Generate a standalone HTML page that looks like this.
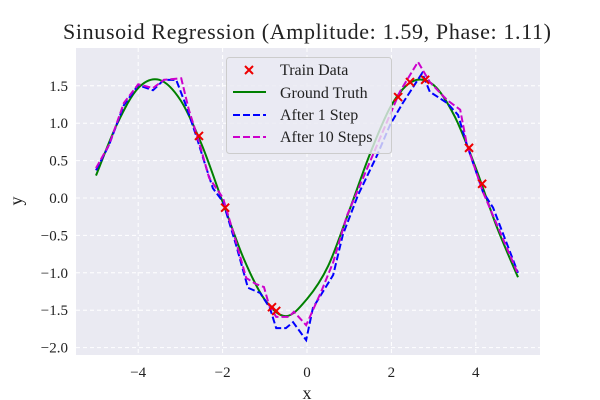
<!DOCTYPE html>
<html><head><meta charset="utf-8"><style>
html,body{margin:0;padding:0;background:#fff;}
svg{display:block;font-family:"Liberation Serif",serif;}
</style></head><body>
<svg id="chart" width="600" height="400" viewBox="0 0 600 400">
<rect x="76" y="48" width="464" height="307" fill="#eaeaf2"/>
<g id="grid"></g><g id="ticks"></g><g id="series"></g>
<text x="307" y="39" text-anchor="middle" font-size="22" fill="#222" textLength="488" lengthAdjust="spacing">Sinusoid Regression (Amplitude: 1.59, Phase: 1.11)</text>
<text x="307" y="399" text-anchor="middle" font-size="18" fill="#222">x</text>
<text x="22" y="201" text-anchor="middle" font-size="18" fill="#222" transform="rotate(-90 22 201)">y</text>
<g>
<rect x="226.5" y="57.5" width="165" height="96" rx="3" fill="#eaeaf2" fill-opacity="0.8" stroke="#ccc"/>
<g><path d="M245 66 l8 8 M253 66 l-8 8" stroke="#e00" stroke-width="2"/><text x="280" y="75" font-size="16" fill="#222">Train Data</text></g>
<g><line x1="233" y1="92" x2="266" y2="92" stroke="#008000" stroke-width="2"/><text x="280" y="98" font-size="16" fill="#222">Ground Truth</text></g>
<g><line x1="233" y1="115" x2="266" y2="115" stroke="#00f" stroke-width="2" stroke-dasharray="7,3"/><text x="280" y="120" font-size="16" fill="#222">After 1 Step</text></g>
<g><line x1="233" y1="137" x2="266" y2="137" stroke="#c0c" stroke-width="2" stroke-dasharray="7,3"/><text x="280" y="142" font-size="16" fill="#222">After 10 Steps</text></g>
</g>
</svg>
<script>
const xTicks=[-4,-2,0,2,4];
const xTickLabels=["\u22124","\u22122","0","2","4"];
const yTicks=[1.5,1.0,0.5,0.0,-0.5,-1.0,-1.5,-2.0];
const yTickLabels=["1.5","1.0","0.5","0.0","\u22120.5","\u22121.0","\u22121.5","\u22122.0"];
const truthX=[-5,-4.5,-4,-3.5,-3,-2.5,-2,-1.5,-1,-0.5,0,0.5,1,1.5,2,2.5,3,3.5,4,4.5,5];
const truthY=[0.30,0.99,1.47,1.58,1.31,0.72,-0.05,-0.81,-1.36,-1.58,-1.35,-0.91,-0.17,0.60,1.24,1.56,1.51,1.09,0.40,-0.39,-1.06];
const step1X=[-5,-4.69,-4.34,-4,-3.65,-3.39,-3.1,-2.87,-2.63,-2.46,-2.23,-1.99,-1.68,-1.4,-1.11,-0.88,-0.73,-0.5,-0.33,-0.02,0.14,0.62,0.85,1.21,1.66,1.97,2.27,2.73,2.91,3.32,3.58,3.79,4.17,4.41,5];
const step1Y=[0.37,0.71,1.24,1.51,1.44,1.58,1.58,1.24,0.84,0.53,0.13,-0.05,-0.63,-1.2,-1.27,-1.47,-1.74,-1.74,-1.66,-1.9,-1.47,-1.03,-0.49,0.04,0.57,0.98,1.27,1.67,1.42,1.27,1.11,0.71,0.08,-0.13,-1.0];
const step10X=[-5,-4.69,-4.34,-4,-3.65,-3.39,-2.98,-2.8,-2.56,-2.32,-1.99,-1.68,-1.44,-1.21,-1.02,-0.9,-0.73,-0.43,-0.31,-0.02,0.33,0.62,0.95,1.33,1.73,2.2,2.63,2.91,3.32,3.63,3.79,4.17,4.98];
const step10Y=[0.4,0.71,1.27,1.52,1.47,1.58,1.6,1.18,0.75,0.27,0,-0.59,-1.07,-1.15,-1.19,-1.43,-1.59,-1.59,-1.52,-1.7,-1.26,-0.86,-0.23,0.27,0.8,1.42,1.82,1.55,1.31,1.18,0.71,0.08,-0.99];
const trainX=[-2.56,-1.94,-0.83,-0.73,2.16,2.44,2.8,3.84,4.15];
const trainY=[0.83,-0.13,-1.46,-1.51,1.35,1.55,1.58,0.67,0.19];

const NS="http://www.w3.org/2000/svg";
const sx=v=>307+v*42.2, sy=v=>198-v*74.8;
function mk(tag,attrs,parent){const e=document.createElementNS(NS,tag);for(const k in attrs)e.setAttribute(k,attrs[k]);parent.appendChild(e);return e;}
const grid=document.getElementById('grid'),ticks=document.getElementById('ticks'),ser=document.getElementById('series');
xTicks.forEach((t,i)=>{
 const l=mk('line',{x1:sx(t),x2:sx(t),y1:48,y2:355,stroke:'#fff','stroke-width':1,'stroke-dasharray':'4,3'},grid);
 
 
 const tx=mk('text',{x:sx(t),y:377,'text-anchor':'middle','font-size':15,fill:'#222'},ticks);
 tx.textContent=xTickLabels[i];
 
 
});
yTicks.forEach((t,i)=>{
 const l=mk('line',{x1:76,x2:540,y1:sy(t),y2:sy(t),stroke:'#fff','stroke-width':1,'stroke-dasharray':'4,3'},grid);
 
 
 const tx=mk('text',{x:68,y:sy(t)+5,'text-anchor':'end','font-size':15,fill:'#222'},ticks);
 tx.textContent=yTickLabels[i];
 
 
});
function smooth(xs,ys){
 const p=xs.map((x,i)=>[sx(x),sy(ys[i])]);let d='M'+p[0][0]+' '+p[0][1];
 for(let i=0;i<p.length-1;i++){const p0=p[Math.max(0,i-1)],p1=p[i],p2=p[i+1],p3=p[Math.min(p.length-1,i+2)];
  d+=` C${p1[0]+(p2[0]-p0[0])/6} ${p1[1]+(p2[1]-p0[1])/6} ${p2[0]-(p3[0]-p1[0])/6} ${p2[1]-(p3[1]-p1[1])/6} ${p2[0]} ${p2[1]}`;}
 return d;}
function poly(xs,ys){return xs.map((x,i)=>(i?'L':'M')+sx(x)+' '+sy(ys[i])).join(' ');}
const g1=mk('path',{d:smooth(truthX,truthY),fill:'none',stroke:'#008000','stroke-width':2},ser);


const b1=mk('path',{d:poly(step1X,step1Y),fill:'none',stroke:'#00f','stroke-width':2,'stroke-dasharray':'7,3'},ser);


const m1=mk('path',{d:poly(step10X,step10Y),fill:'none',stroke:'#c0c','stroke-width':2,'stroke-dasharray':'7,3'},ser);


trainX.forEach((x,i)=>{const cx=sx(x),cy=sy(trainY[i]);
 const p=mk('path',{d:`M${cx-4} ${cy-4} L${cx+4} ${cy+4} M${cx+4} ${cy-4} L${cx-4} ${cy+4}`,stroke:'#e00','stroke-width':2},ser);
 
 
});
</script>
</body></html>
